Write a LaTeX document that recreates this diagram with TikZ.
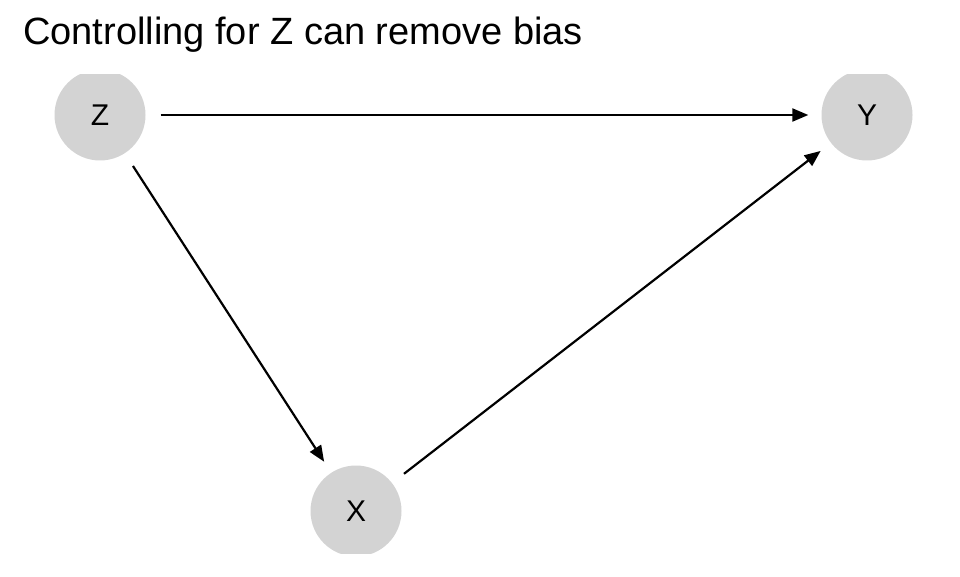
\documentclass[tikz,border=0pt]{standalone}
\usepackage{fontspec}
\setmainfont{Liberation Sans}
\usetikzlibrary{arrows.meta}
\definecolor{nodegray}{RGB}{211,211,211}
\begin{document}
\begin{tikzpicture}[x=1pt,y=1pt,
	dagnode/.style={circle,fill=nodegray,minimum size=91pt,inner sep=0pt,font=\fontsize{30}{32}\selectfont},
	dagedge/.style={line width=2.2pt,-{Triangle[length=16pt,width=13pt]},shorten <=15pt,shorten >=13pt}]
	\useasboundingbox (0,0) rectangle (960,576);
	% Title
	\node[anchor=base west,inner sep=0pt,font=\fontsize{38}{40}\selectfont] (title) at (23,531) {Controlling for Z can remove bias};
	% Nodes (panel clips the circles)
	\begin{scope}
	\clip (0,23) rectangle (960,501);
	\node[dagnode] (Z) at (100,461) {Z};
	\node[dagnode] (Y) at (867,461) {Y};
	\node[dagnode] (X) at (356,65) {X};
	\end{scope}
	% Edges
	\draw[dagedge] (Z) -- (Y);
	\draw[dagedge] (Z) -- (X);
	\draw[dagedge] (X) -- (Y);
\end{tikzpicture}
\end{document}
